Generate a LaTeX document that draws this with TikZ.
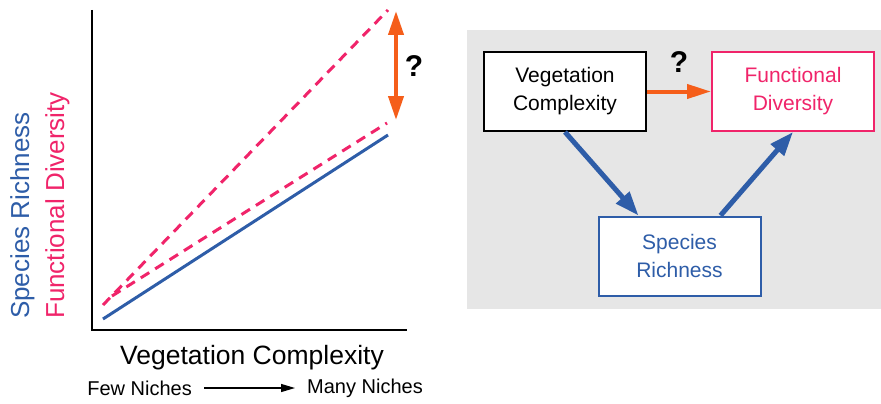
\documentclass[tikz,border=0pt]{standalone}
\usepackage{fontspec}
\setmainfont{Liberation Sans}
\usetikzlibrary{positioning,calc,arrows.meta}
\definecolor{srblue}{RGB}{46,93,168}
\definecolor{fdpink}{RGB}{240,36,106}
\definecolor{qorange}{RGB}{245,94,26}
\definecolor{panelgray}{RGB}{230,230,230}

\begin{document}
\begin{tikzpicture}[
  x=1pt, y=-1pt,
  font=\fontsize{21}{28}\selectfont,
  box/.style={draw, line width=2pt, fill=white, align=center,
    minimum width=162pt, minimum height=79pt, inner sep=2pt},
  trend/.style={line width=3pt},
  fdtrend/.style={trend, fdpink, dash pattern=on 10pt off 7pt},
  axislabel/.style={rotate=90, anchor=base west, inner sep=0pt,
    font=\fontsize{26}{26}\selectfont},
  niche/.style={font=\fontsize{20}{20}\selectfont, inner sep=0pt},
  link/.style={line width=5pt, srblue, -{Triangle[length=24pt, width=17pt]}},
  query/.style={font=\fontsize{30}{30}\selectfont\bfseries}]
\useasboundingbox (0,0) rectangle (881,404);
% left: conceptual plot
\coordinate (origin) at (92,330);
\coordinate (ytop) at (92,10);
\coordinate (xend) at (407,330);
\draw[line width=2.5pt] (ytop) -- (origin) -- (xend);
\coordinate (srlo) at (103,319);
\coordinate (srhi) at (388,135);
\coordinate (fdlo) at (103,305);
\coordinate (fdhi) at (388,10);
\coordinate (fdlo2) at (112,296);
\coordinate (fdhi2) at (387,123);
\draw[trend, srblue] (srlo) -- (srhi);
\draw[fdtrend] (fdlo) -- (fdhi);
\draw[fdtrend] (fdlo2) -- (fdhi2);
\coordinate (gaptop) at (396,11);
\coordinate (gapbot) at (396,120);
\draw[line width=4pt, qorange, {Triangle[length=24pt, width=15pt]}-{Triangle[length=24pt, width=15pt]}]
  (gaptop) -- (gapbot);
\node[query] (plotq) at (414,66) {?};
\node[axislabel, srblue] (ylab1) at (29,319) {Species Richness};
\node[axislabel, fdpink] (ylab2) at (64,319) {Functional Diversity};
\node[font=\fontsize{26.5}{26.5}\selectfont] (xlab) at (252,358) {Vegetation Complexity};
\node[niche, anchor=east] (few) at (192,388) {Few Niches};
\node[niche, anchor=west] (many) at (307,388) {Many Niches};
\draw[line width=1.2pt, -{Triangle[length=14pt, width=8pt]}] ([xshift=12pt]few.east) -- ([xshift=-12pt]many.west);
% right: path diagram
\fill[panelgray] (467,30) rectangle (881,309);
\node[box] (veg) at (565,91.5) {Vegetation\\Complexity};
\node[box, draw=fdpink, text=fdpink] (fd) at (793,91.5) {Functional\\Diversity};
\node[box, draw=srblue, text=srblue] (sr) at (679.5,256) {Species\\Richness};
\draw[line width=4pt, qorange, -{Triangle[length=24pt, width=14pt]}] (veg.east) -- (fd.west);
\node[query] (pathq) at (679,62) {?};
\draw[link] (veg.south) -- ($(sr.north west)!0.25!(sr.north east)$);
\draw[link] ($(sr.north west)!0.75!(sr.north east)$) -- (fd.south);
\end{tikzpicture}
\end{document}
